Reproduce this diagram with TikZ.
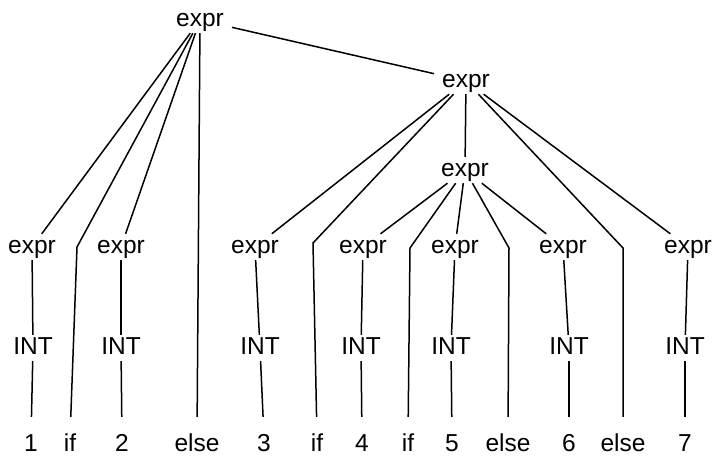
\documentclass[tikz,border=0pt]{standalone}
\usepackage{fontspec}
\setmainfont{Liberation Sans}
\begin{document}
\begin{tikzpicture}[x=1pt,y=-1pt,
  lbl/.style={anchor=base, inner xsep=8pt, inner ysep=0pt, text height=19pt, text depth=7pt, font=\fontsize{24.5}{29}\selectfont},
  leaf/.style={lbl, text height=34pt},
  edge/.style={line width=1.5pt}]
\useasboundingbox (0,0) rectangle (712,456);
% internal expr nodes
\node[lbl] (r)  at (200,26)  {expr};
\node[lbl] (x2) at (466,87)  {expr};
\node[lbl] (x3) at (465,176) {expr};
% expr row
\node[lbl] (e1) at (32,253)  {expr};
\node[lbl] (e2) at (121,253) {expr};
\node[lbl] (e3) at (255,253) {expr};
\node[lbl] (e4) at (363,253) {expr};
\node[lbl] (e5) at (455,253) {expr};
\node[lbl] (e6) at (563,253) {expr};
\node[lbl] (e7) at (688,253) {expr};
% INT row
\node[lbl] (i1) at (33,354)  {INT};
\node[lbl] (i2) at (121,354) {INT};
\node[lbl] (i3) at (260,354) {INT};
\node[lbl] (i4) at (361,354) {INT};
\node[lbl] (i5) at (451,354) {INT};
\node[lbl] (i6) at (569,354) {INT};
\node[lbl] (i7) at (685,354) {INT};
% leaves
\node[leaf] (l1)  at (31,451)  {1};
\node[leaf] (if1) at (70,451)  {if};
\node[leaf] (l2)  at (122,451) {2};
\node[leaf] (el1) at (197,451) {else};
\node[leaf] (l3)  at (264,451) {3};
\node[leaf] (if2) at (317,451) {if};
\node[leaf] (l4)  at (362,451) {4};
\node[leaf] (if3) at (408,451) {if};
\node[leaf] (l5)  at (452,451) {5};
\node[leaf] (el2) at (508,451) {else};
\node[leaf] (l6)  at (569,451) {6};
\node[leaf] (el3) at (623,451) {else};
\node[leaf] (l7)  at (685,451) {7};
% bend points
\coordinate (b1) at (77,247);
\coordinate (b2) at (313,243);
\coordinate (b3) at (410,248);
\coordinate (b4) at (509,248);
\coordinate (b5) at (623,248);
% edges from root
\draw[edge] (r) -- (e1);
\draw[edge] (r) -- (b1) -- (if1);
\draw[edge] (r) -- (e2);
\draw[edge] (r) -- (el1);
\draw[edge] (r) -- (x2);
% edges from x2
\draw[edge] (x2) -- (e3);
\draw[edge] (x2) -- (b2) -- (if2);
\draw[edge] (x2) -- (x3);
\draw[edge] (x2) -- (b5) -- (el3);
\draw[edge] (x2) -- (e7);
% edges from x3
\draw[edge] (x3) -- (e4);
\draw[edge] (x3) -- (b3) -- (if3);
\draw[edge] (x3) -- (e5);
\draw[edge] (x3) -- (b4) -- (el2);
\draw[edge] (x3) -- (e6);
% expr -> INT -> number
\foreach \k in {1,...,7}{
  \draw[edge] (e\k) -- (i\k);
  \draw[edge] (i\k) -- (l\k);
}
\end{tikzpicture}
\end{document}
